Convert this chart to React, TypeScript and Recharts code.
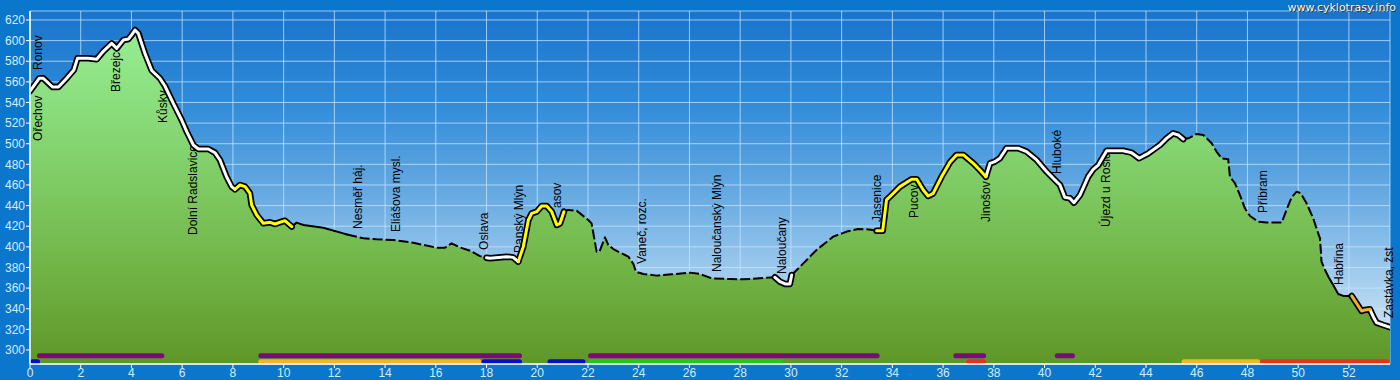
import React from 'react';
import {
  ComposedChart,
  Area,
  Line,
  XAxis,
  YAxis,
  CartesianGrid,
  ReferenceLine,
  ReferenceDot,
} from 'recharts';

// ---- profile: distance (km) and elevation (m) ----
const kmValues = [
  0, 0.37, 0.52, 0.89, 1.12, 1.45, 1.73, 1.87, 2.3, 2.63, 2.89, 3.22, 3.42, 3.68, 3.88, 4.01, 4.14, 4.27, 4.53, 4.8,
  5.12, 5.32, 5.65, 5.98, 6.18, 6.44, 6.64, 7.03, 7.29, 7.49, 7.75, 7.95, 8.08, 8.28, 8.48, 8.67, 8.74, 8.94, 9.2, 9.46,
  9.66, 10.05, 10.32, 10.51, 10.78, 11.56, 12.35, 12.5, 13.14, 13.67, 14.32, 15.11, 16.03, 16.36, 16.62, 16.95, 17.35, 17.74, 18.0, 18.14,
  18.79, 19.05, 19.25, 19.45, 19.65, 19.78, 19.98, 20.17, 20.37, 20.57, 20.77, 20.9, 21.05, 21.22, 21.55, 22.01, 22.14, 22.34, 22.45, 22.67,
  22.8, 23.0, 23.19, 23.46, 23.59, 23.79, 23.89, 24.18, 24.71, 25.3, 26.02, 26.41, 26.87, 27.6, 28.12, 29.37, 29.57, 29.77, 29.96, 30.03,
  30.49, 31.01, 31.67, 32.2, 32.65, 32.99, 33.38, 33.62, 33.77, 33.97, 34.3, 34.76, 34.96, 35.22, 35.41, 35.61, 35.94, 36.27, 36.53, 36.8,
  37.19, 37.45, 37.69, 37.85, 38.04, 38.24, 38.5, 38.96, 39.29, 39.69, 40.08, 40.41, 40.61, 40.8, 41.0, 41.16, 41.4, 41.72, 41.92, 42.12,
  42.45, 43.1, 43.43, 43.73, 44.09, 44.55, 44.81, 45.07, 45.27, 45.47, 45.67, 46.0, 46.26, 46.59, 46.78, 46.98, 47.24, 47.31, 47.51, 47.7,
  47.9, 48.1, 48.43, 48.75, 49.35, 49.54, 49.74, 49.94, 50.1, 50.33, 50.59, 50.79, 50.86, 50.92, 51.06, 51.19, 51.38, 51.58, 51.78, 52.11,
  52.3, 52.5, 52.63, 52.83, 52.96, 53.09, 53.35, 53.62,
];
const elevValues = [
  551, 563.5, 563.5, 555, 555, 563.5, 571.5, 582.8, 582.8, 582, 589.6, 597.3, 592.4, 600.5, 601.5, 605.5, 610.3, 607, 587.6, 571,
  563.5, 556, 539.2, 523, 511.7, 498.8, 494.9, 494.9, 491.3, 484.2, 468, 458.4, 455.8, 460, 458.4, 452, 440.6, 430.9, 422.8, 423.8,
  422.2, 425.4, 419.6, 423.5, 421.2, 418.6, 413.1, 412, 408.3, 407.3, 406.7, 404, 399.2, 399.2, 403.4, 399.5, 396.2, 391, 389.5, 389,
  390.5, 389.8, 385.6, 400.2, 426, 432.5, 434.1, 439.6, 439.6, 434.1, 421.2, 422.8, 434.1, 435.8, 435.1, 426, 422.8, 395.3, 395.3, 409.2,
  401.8, 397.9, 395.3, 392.1, 390.5, 383.4, 375.9, 373.7, 372.1, 373.4, 375, 373.7, 369.5, 368.8, 368.5, 370.5, 366.2, 364, 364, 372.7,
  384, 397, 409.9, 414.8, 417.3, 417, 415.7, 415.7, 445.5, 450.3, 458.4, 465.5, 465.5, 455.1, 449.3, 451.9, 468, 482, 489.1, 489.1,
  481, 474.5, 468, 481, 482.6, 485.9, 495.6, 495.6, 492.4, 484.3, 473, 464.8, 460, 448, 447.1, 442.8, 450.3, 468, 475.1, 479.3,
  493.2, 493.2, 491.3, 485.9, 490.7, 498.8, 505.2, 510.1, 508.5, 504.5, 505.2, 509.5, 508.5, 500.4, 492.4, 485.9, 485, 468, 461.6, 450.3,
  437.4, 429.9, 424.4, 423.5, 423.5, 435.8, 448, 453.5, 451.9, 442.2, 427.7, 413.1, 408.3, 385.6, 377.6, 371.1, 363, 354.3, 352.4, 352.4,
  345.3, 337.8, 338.8, 339.4, 332.3, 326.5, 324.2, 322,
];

// ---- surface segments along the route ----
const segFrom = [0, 8.08, 10.32, 12.5, 18.0, 19.25, 21.05, 29.37, 30.03, 33.38, 37.69, 45.47, 51.06, 52.11, 52.83];
const segTo = [8.08, 10.32, 12.5, 18.0, 19.25, 21.05, 29.37, 30.03, 33.38, 37.69, 45.47, 51.06, 52.11, 52.83, 53.62];
const segKind = ['white', 'yellow', 'solid', 'dashed', 'white', 'yellow', 'dashed', 'white', 'dashed', 'yellow', 'white', 'dashed', 'solid', 'orange', 'white'];

// ---- place names ----
const placeNames = [
  'Ronov', 'Ořechov', 'Březejc', 'Kůsky', 'Dolní Radslavice', 'Nesměř háj.', 'Eliášova mysl.', 'Oslava', 'Panský Mlýn', 'asov',
  'Vaneč, rozc.', 'Naloučanský Mlýn', 'Naloučany', 'Jasenice', 'Pucov', 'Jinošov', 'Hluboké', 'Újezd u Rosic', 'Příbram', 'Habřina',
  'Zastávka, žst',
];
const placeKm = [0.32, 0.32, 3.39, 5.24, 6.43, 12.93, 14.43, 17.9, 19.28, 20.78, 24.13, 27.08, 29.65, 33.39, 34.85, 37.69, 40.49, 42.42, 48.61, 51.61, 53.58];
const placeElev = [571.5, 502.7, 550.2, 520.1, 411.5, 417.3, 414.4, 397, 394.1, 437.7, 383.4, 375.6, 373.7, 424.1, 428, 424.1, 470.7, 419.3, 432.8, 363, 331];

// ---- route type bars (km ranges) ----
const barFrom = [0.27, 9.0, 22.0, 36.4, 40.4, 0, 9.0, 17.8, 20.4, 22.0, 36.9, 45.4, 48.5];
const barTo = [5.3, 19.4, 33.5, 37.7, 41.2, 0.4, 17.8, 19.4, 21.9, 29.7, 37.7, 48.5, 53.6];
const barRow = ['upper', 'upper', 'upper', 'upper', 'upper', 'lower', 'lower', 'lower', 'lower', 'lower', 'lower', 'lower', 'lower'];
const barKind = ['purple', 'purple', 'purple', 'purple', 'purple', 'blue', 'yellow', 'blue', 'blue', 'green', 'red', 'yellow', 'red'];

// ---- axis ticks ----
const xTicks = [0, 2, 4, 6, 8, 10, 12, 14, 16, 18, 20, 22, 24, 26, 28, 30, 32, 34, 36, 38, 40, 42, 44, 46, 48, 50, 52];
const yTicks = [300, 320, 340, 360, 380, 400, 420, 440, 460, 480, 500, 520, 540, 560, 580, 600, 620];

// ---- styling ----
const X_DOMAIN: [number, number] = [0, 53.62];
const Y_DOMAIN: [number, number] = [286.4, 628.7];
const ROW_ELEV: Record<string, number> = { upper: 294.5, lower: 288.7 };
const BAR_COLORS: Record<string, string> = {
  purple: '#7d0a7d',
  blue: '#0a0ad2',
  yellow: '#f0b824',
  green: '#1ec81e',
  red: '#e6321e',
};
const OUTLINED = ['white', 'yellow', 'orange'];

const rows = kmValues.map((k, i) => {
  const r: Record<string, number | null> = {
    km: k,
    elev: elevValues[i],
    outline: null,
    white: null,
    yellow: null,
    orange: null,
    dashed: null,
    solid: null,
  };
  segKind.forEach((kind, j) => {
    if (k >= segFrom[j] - 1e-9 && k <= segTo[j] + 1e-9) {
      r[kind] = elevValues[i];
      if (OUTLINED.includes(kind)) r.outline = elevValues[i];
    }
  });
  return r;
});

const tickStyle = { fill: '#d6ecff', fontSize: 12, fontFamily: 'Liberation Sans, Arial, sans-serif' };

const placeShape = (name: string) => (p: any) => (
  <text
    x={p.cx}
    y={p.cy}
    dy="0.36em"
    transform={`rotate(-90 ${p.cx} ${p.cy})`}
    fontSize={12}
    fontFamily="Liberation Sans, Arial, sans-serif"
    fill="#000"
    textAnchor="start"
  >
    {name}
  </text>
);

const lineCommon = {
  type: 'linear' as const,
  dot: false,
  activeDot: false,
  isAnimationActive: false,
  connectNulls: false,
  strokeLinejoin: 'round' as const,
  strokeLinecap: 'round' as const,
};

export default function App() {
  return (
    <div
      style={{
        position: 'absolute',
        left: 0,
        top: 0,
        width: 1400,
        height: 380,
        background: '#0b77cc',
        overflow: 'hidden',
      }}
    >
      <ComposedChart
        width={1400}
        height={380}
        data={rows}
        margin={{ top: 11, right: 10, bottom: 0, left: 0 }}
      >
        <defs>
          <linearGradient id="plotBg" x1="0" y1="0" x2="0" y2="1">
            <stop offset="0%" stopColor="#1a74cc" />
            <stop offset="25%" stopColor="#2f8ad8" />
            <stop offset="55%" stopColor="#6eaee3" />
            <stop offset="80%" stopColor="#aed3f0" />
            <stop offset="100%" stopColor="#e2f0fa" />
          </linearGradient>
          <linearGradient id="grn" x1="0" y1="0" x2="0" y2="1">
            <stop offset="0%" stopColor="#96ee92" />
            <stop offset="35%" stopColor="#84d470" />
            <stop offset="70%" stopColor="#72b648" />
            <stop offset="100%" stopColor="#5f9628" />
          </linearGradient>
        </defs>
        <CartesianGrid
          stroke="rgba(200,230,255,0.75)"
          strokeWidth={1}
          fill="url(#plotBg)"
          fillOpacity={1}
        />
        <XAxis
          dataKey="km"
          type="number"
          domain={X_DOMAIN}
          ticks={xTicks}
          allowDataOverflow
          height={16}
          tickSize={4}
          tickMargin={0}
          tick={tickStyle}
          axisLine={{ stroke: '#ffffff', strokeWidth: 1.5 }}
          tickLine={{ stroke: '#ffffff' }}
          interval={0}
        />
        <YAxis
          type="number"
          domain={Y_DOMAIN}
          ticks={yTicks}
          allowDataOverflow
          width={30}
          tickSize={4}
          tickMargin={1}
          tick={tickStyle}
          axisLine={{ stroke: '#ffffff', strokeWidth: 1.5 }}
          tickLine={{ stroke: '#ffffff' }}
          interval={0}
        />
        <Area
          type="linear"
          dataKey="elev"
          stroke="none"
          fill="url(#grn)"
          fillOpacity={1}
          isAnimationActive={false}
          dot={false}
          activeDot={false}
        />
        {placeNames.map((n, i) => (
          <ReferenceDot
            key={'p' + i}
            x={placeKm[i]}
            y={placeElev[i]}
            r={0}
            shape={placeShape(n)}
            zIndex={150}
          />
        ))}
        {barKind.map((kind, i) => (
          <ReferenceLine
            key={'b' + i}
            segment={[
              { x: barFrom[i] + 0.1, y: ROW_ELEV[barRow[i]] },
              { x: Math.max(barFrom[i] + 0.1, barTo[i] - 0.1), y: ROW_ELEV[barRow[i]] },
            ]}
            stroke={BAR_COLORS[kind]}
            strokeWidth={5}
            strokeLinecap="round"
            zIndex={150}
          />
        ))}
        <Line {...lineCommon} dataKey="dashed" stroke="#000" strokeWidth={2} strokeDasharray="10 3" strokeLinecap="butt" />
        <Line {...lineCommon} dataKey="solid" stroke="#000" strokeWidth={2} />
        <Line {...lineCommon} dataKey="outline" stroke="#000" strokeWidth={6.5} />
        <Line {...lineCommon} dataKey="white" stroke="#ffffff" strokeWidth={3} />
        <Line {...lineCommon} dataKey="yellow" stroke="#ffff00" strokeWidth={3} />
        <Line {...lineCommon} dataKey="orange" stroke="#f2b02c" strokeWidth={3} />
      </ComposedChart>
      <div
        style={{
          position: 'absolute',
          right: 4,
          top: 1,
          fontFamily: 'DejaVu Sans, Verdana, sans-serif',
          fontSize: 11,
          color: '#ffffff',
          textShadow: '1px 1px 0 #333, 0 0 1px #333',
          lineHeight: '14px',
        }}
      >
        www.cyklotrasy.info
      </div>
    </div>
  );
}
